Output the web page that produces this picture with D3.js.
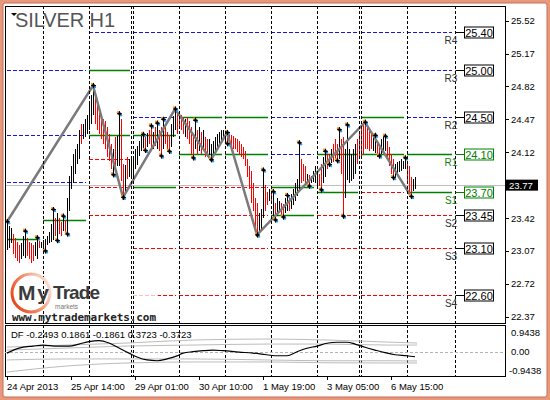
<!DOCTYPE html>
<html>
<head>
<meta charset="utf-8">
<script src="https://cdn.jsdelivr.net/npm/d3@7"></script>
<style>
  body { margin: 0; background: #fff; }
  text { font-family: "Liberation Sans", Arial, sans-serif; }
</style>
</head>
<body>
<div id="root"></div>
<script>
// DATA (hourly bars, index 0 = first bar on the chart)
let barHigh = [23.38,23.34,23.31,23.25,23.21,23.17,23.13,23.15,23.23,23.28,23.21,23.17,23.15,23.13,23.17,23.21,23.18,23.17,23.19,23.20,
  23.23,23.27,23.36,23.51,23.42,23.47,23.42,23.38,23.44,23.40,23.63,23.87,23.97,24.10,24.15,24.21,24.36,24.42,24.42,24.47,
  24.52,24.63,24.73,24.83,24.76,24.68,24.57,24.52,24.47,24.45,24.39,24.31,24.21,24.15,24.28,24.29,24.53,24.47,24.00,23.98,
  24.07,24.05,24.05,24.08,24.15,24.19,24.24,24.29,24.31,24.28,24.33,24.36,24.40,24.34,24.39,24.43,24.36,24.39,24.47,24.39,
  24.34,24.30,24.42,24.51,24.58,24.55,24.55,24.52,24.49,24.47,24.49,24.45,24.39,24.31,24.46,24.36,24.39,24.34,24.36,24.28,
  24.26,24.26,24.21,24.24,24.28,24.31,24.34,24.36,24.36,24.33,24.33,24.31,24.30,24.29,24.27,24.26,24.24,24.21,24.18,24.13,
  24.05,23.97,23.92,23.79,23.63,23.58,23.47,23.52,23.93,23.77,23.70,23.73,23.68,23.70,23.58,23.63,23.60,23.58,23.57,23.63,
  23.66,23.63,23.68,23.73,23.79,23.84,24.22,24.05,24.00,23.97,23.89,23.88,23.87,23.92,23.97,23.92,23.89,24.00,24.07,24.13,
  24.10,24.10,24.15,24.21,24.26,24.21,24.36,24.26,24.28,24.15,24.41,24.15,24.10,24.15,24.21,24.26,24.31,24.39,24.42,24.44,
  24.39,24.36,24.33,24.31,24.30,24.24,24.21,24.26,24.28,24.29,24.24,24.18,24.10,24.05,24.00,24.02,24.03,24.05,24.03,24.06,
  24.02,23.97,23.86,23.84,23.86];
let barLow = [23.08,23.10,23.15,23.04,23.00,22.96,22.94,22.98,23.02,23.00,23.02,22.98,22.94,22.96,23.02,22.98,23.10,23.10,23.11,23.07,
  23.13,23.15,23.17,23.19,23.23,23.18,23.25,23.23,23.28,23.27,23.25,23.49,23.73,23.79,23.89,24.00,24.05,24.21,24.26,24.28,
  24.31,24.36,24.42,24.52,24.42,24.36,24.31,24.26,24.21,24.15,24.07,24.03,23.94,23.88,23.94,23.97,23.97,23.81,23.64,23.70,
  23.84,23.86,23.84,23.84,23.94,23.98,24.08,24.13,24.15,24.14,24.18,24.21,24.18,24.15,24.19,24.15,24.13,24.08,24.15,24.21,
  24.15,24.13,24.18,24.28,24.36,24.31,24.39,24.36,24.31,24.28,24.26,24.21,24.10,24.06,24.15,24.10,24.13,24.10,24.15,24.07,
  24.07,24.09,24.04,24.10,24.13,24.18,24.21,24.23,24.26,24.24,24.21,24.21,24.19,24.15,24.15,24.12,24.10,24.07,24.05,23.97,
  23.86,23.73,23.58,23.50,23.31,23.24,23.26,23.29,23.42,23.49,23.56,23.60,23.57,23.44,23.40,23.44,23.47,23.44,23.43,23.47,
  23.50,23.49,23.52,23.56,23.60,23.65,23.73,23.79,23.81,23.79,23.78,23.76,23.79,23.80,23.79,23.73,23.76,23.72,23.79,23.86,
  23.94,23.99,24.01,24.02,24.05,24.03,24.05,23.89,23.44,23.63,23.82,23.79,23.81,23.84,23.89,24.00,24.05,24.05,24.10,24.15,
  24.15,24.13,24.15,24.13,24.11,24.07,24.08,24.10,24.12,24.13,24.05,23.97,23.89,23.85,23.86,23.89,23.91,23.92,23.94,23.94,
  23.79,23.68,23.65,23.71,23.73];
let barUp = [1,1,1,0,0,0,0,1,1,1,0,0,0,0,1,1,0,1,1,1,
  1,1,1,1,0,1,0,0,1,0,1,1,1,1,1,1,1,0,1,1,
  1,1,1,1,0,0,0,0,0,0,0,0,0,1,0,1,1,0,0,1,
  0,1,1,1,1,1,1,1,1,0,1,0,0,1,0,1,0,0,1,0,
  0,0,1,1,1,0,0,0,0,1,0,0,0,0,1,0,1,0,1,0,
  0,1,1,1,1,1,1,1,1,1,0,0,0,0,0,0,0,0,0,0,
  0,0,0,0,0,0,1,1,1,0,0,1,0,1,0,1,1,0,0,1,
  1,0,1,1,1,1,1,0,0,0,1,0,1,1,1,1,0,0,1,1,
  0,0,1,0,0,0,1,0,0,1,1,1,1,1,1,0,0,0,0,0,
  0,0,0,1,1,0,0,1,1,1,0,0,0,0,1,1,1,1,1,1,
  0,0,0,1,1];

// fractal bars and zigzag turning points
let fractalUp = [0,9,15,23,28,43,56,68,72,75,78,84,94,110,128,133,140,146,159,166,170,179,184,189,199];
let fractalDown = [19,25,30,53,58,69,77,81,93,102,110,125,134,138,151,157,161,165,168,186,193,202];
let zigzagIndex = [0,43,58,84,102,110,125,179,202];
let zigzagPrice = [23.38,24.83,23.64,24.58,24.04,24.33,23.24,24.44,23.65];

// daily pivot levels
let dayStart = [0,18,41,63,86,109,132,155,177,200,224];
let levelsBlue = [[25.00,24.30,23.80],[25.00,24.30,23.80],[25.40],[25.40,25.00,24.50],[25.40,25.00],[25.40,25.00],
  [25.40,25.00,24.50,24.10],[25.40,25.00,24.50],[25.40,25.00],[25.40,25.00,24.50]];
let levelsGreen = [[23.20],[23.40],[25.00,24.30],[24.30,23.75],[24.50,24.10],[24.50,24.10],
  [23.75,23.45],[24.10,23.70],[24.50,24.10],[24.10,23.70]];
let levelsRed = [[],[],[24.05,23.75,23.45],[23.45,23.10,22.60],[23.75,23.45,23.10,22.60],[23.75,23.45,23.10,22.60],
  [23.10,22.60],[23.45,23.10,22.60],[23.70,23.45,23.10,22.60],[23.45,23.10,22.60]];
let levelNames = ['R4','R3','R2','R1','S1','S2','S3','S4'];
let levelValues = [25.40,25.00,24.50,24.10,23.70,23.45,23.10,22.60];
let levelKinds = ['b','b','b','g','g','r','r','r'];

// day separators (bar index)
let separators = [18,41,62,63,86,109,132,155,176,177,200,224];

// axes
let priceTicks = [25.52,25.17,24.82,24.47,24.12,23.42,23.07,22.72,22.37];
let lastPrice = 23.77;
let timeIndex = [0,32,64,96,128,160,192];
let timeLabels = ['24 Apr 2013','25 Apr 14:00','29 Apr 01:00','30 Apr 10:00','1 May 19:00','3 May 05:00','6 May 15:00'];

// DF oscillator
let dfIndex = [0,6,13,18,25,31,36,41,46,51,56,61,65,70,75,80,85,88,93,98,103,108,116,123,129,134,140,145,150,155,160,165,170,174,179,184,189,194,200,204];
let dfValues = [-0.07,0.18,0.28,0.33,0.28,0.28,0.38,0.50,0.55,0.43,0.18,-0.07,-0.26,-0.41,-0.45,-0.36,-0.21,-0.07,0.0,0.05,
  0.08,0.05,-0.02,-0.07,-0.14,-0.20,-0.20,0.0,0.17,0.28,0.42,0.47,0.47,0.38,0.22,0.08,-0.05,-0.15,-0.20,-0.25];
let bandIndex = [0,30,60,93,130,160,190,205];
let bandUpOuter = [0.23,0.33,0.43,0.58,0.63,0.58,0.48,0.43];
let bandUpInner = [0.08,0.18,0.28,0.33,0.38,0.38,0.33,0.33];
let bandDnInner = [-0.41,-0.36,-0.36,-0.36,-0.41,-0.45,-0.45,-0.46];
let bandDnOuter = [-1.01,-0.71,-0.56,-0.51,-0.51,-0.55,-0.56,-0.56];
let dfTicks = [0.9438,0,-0.9438];
let dfLabel = 'DF -0.2493 0.1861 -0.1861 0.3723 -0.3723';

// LAYOUT
let width = 550, height = 400;
let pLeft = 5, pRight = 505, pTop = 6, pBottom = 323;
let indTop = 325, indBottom = 376;

let svg = d3.select('#root').append('svg')
  .attr('width', width).attr('height', height);

// outer frame
svg.append('rect').attr('width', width).attr('height', height).attr('fill', '#e8987c');
svg.append('rect').attr('x', 3).attr('y', 3).attr('width', width - 6).attr('height', height - 6)
  .attr('rx', 2).attr('fill', '#fff').attr('stroke', '#c46e52');

let x = d3.scaleLinear().domain([0, 224]).range([7, 455]);
let y = d3.scaleLinear().domain([25.52, 22.37]).range([20.7, 316.7]);
let yDf = d3.scaleLinear().domain([0.9438, -0.9438]).range([332.7, 370.7]);
let px = i => Math.round(x(i)) + 0.5;

let main = svg.append('g');
main.append('clipPath').attr('id', 'clipMain')
  .append('rect').attr('x', pLeft).attr('y', pTop).attr('width', pRight - pLeft).attr('height', pBottom - pTop);

let plot = main.append('g').attr('clip-path', 'url(#clipMain)');

// pivot level lines
let levelRows = [];
dayStart.slice(0, -1).forEach((s, d) => {
  let x1 = x(s), x2 = x(dayStart[d + 1]) - 3;
  levelsBlue[d].forEach(v => levelRows.push({ x1, x2, v, c: '#1515e8', dash: '4,2', w: 1 }));
  levelsRed[d].forEach(v => levelRows.push({ x1, x2, v, c: '#ff0000', dash: '4,2', w: 1 }));
  levelsGreen[d].forEach(v => levelRows.push({ x1, x2, v, c: '#008000', dash: null, w: 1.5 }));
});
plot.selectAll('.lvl').data(levelRows).enter().append('line')
  .attr('x1', d => d.x1).attr('x2', d => d.x2)
  .attr('y1', d => Math.round(y(d.v)) + 0.5).attr('y2', d => Math.round(y(d.v)) + 0.5)
  .attr('stroke', d => d.c).attr('stroke-width', d => d.w)
  .attr('stroke-dasharray', d => d.dash);

// last price line
plot.append('line').attr('x1', pLeft).attr('x2', pRight)
  .attr('y1', Math.round(y(lastPrice)) + 0.5).attr('y2', Math.round(y(lastPrice)) + 0.5)
  .attr('stroke', '#c0c0c0');

// bars (high-low sticks, black = up hour, red = down hour)
plot.selectAll('.bar').data(barHigh).enter().append('rect')
  .attr('class', 'bar')
  .attr('x', (d, i) => Math.round(x(i)))
  .attr('width', 1)
  .attr('y', d => Math.round(y(d)))
  .attr('height', (d, i) => Math.max(1, Math.round(y(barLow[i])) - Math.round(y(d))))
  .style('fill', (d, i) => barUp[i] ? '#000000' : '#ff0000');

// zigzag
plot.append('path')
  .datum(zigzagIndex.map((d, i) => [d, zigzagPrice[i]]))
  .attr('d', d3.line().x(d => x(d[0])).y(d => y(d[1])))
  .attr('fill', 'none').attr('stroke', '#7a7a7a').attr('stroke-width', 2.5);

// fractal markers
let marks = fractalUp.map(i => [i, barHigh[i]]).concat(fractalDown.map(i => [i, barLow[i]]));
let mg = plot.selectAll('.fr').data(marks).enter().append('g')
  .attr('transform', d => `translate(${px(d[0])},${y(d[1])})`);
mg.append('circle').attr('r', 1.2).attr('cx', -1.5).attr('cy', -1.5).attr('fill', '#ff9a20');
mg.append('circle').attr('r', 1.2).attr('cx', 1.5).attr('cy', 1.5).attr('fill', '#2aa0ff');
mg.append('path').attr('d', d3.symbol(d3.symbolDiamond, 9)).attr('fill', '#000');
mg.append('path').attr('d', 'M-2.5,0H2.5M0,-2.5V2.5').attr('stroke', '#000').attr('stroke-width', 1);

// logo veil
main.append('rect').attr('x', 8).attr('y', 264).attr('width', 150).attr('height', 58)
  .attr('fill', '#fff').attr('opacity', 0.75);

// separators (main + indicator)
[[pTop, pBottom], [indTop, indBottom]].forEach(r => {
  main.selectAll(null).data(separators).enter().append('line')
    .attr('x1', d => px(d)).attr('x2', d => px(d))
    .attr('y1', r[0]).attr('y2', r[1])
    .attr('stroke', '#000').attr('stroke-dasharray', '3,2');
});

// level labels at the right end
let lastX = px(224);
let lg = main.selectAll('.lab').data(levelValues).enter().append('g')
  .attr('transform', d => `translate(0,${Math.round(y(d)) + 0.5})`);
let kindColor = k => k === 'g' ? '#008000' : '#000';
lg.append('line').attr('x1', lastX).attr('x2', 464).attr('stroke', (d, i) => kindColor(levelKinds[i]));
lg.append('rect').attr('x', 464.5).attr('y', -5.5).attr('width', 29).attr('height', 11)
  .attr('fill', '#fff').attr('stroke', (d, i) => kindColor(levelKinds[i]));
lg.append('text').attr('x', 479).attr('y', 4).attr('text-anchor', 'middle')
  .style('font-size', '11px').attr('fill', (d, i) => kindColor(levelKinds[i]))
  .text(d => d.toFixed(2));
lg.append('text').attr('x', 451).attr('y', 11).attr('text-anchor', 'middle')
  .style('font-size', '10px').attr('fill', (d, i) => levelKinds[i] === 'g' ? '#108010' : '#333')
  .text((d, i) => levelNames[i]);

// frames
svg.append('rect').attr('x', pLeft + 0.5).attr('y', pTop + 0.5).attr('width', pRight - pLeft).attr('height', pBottom - pTop)
  .attr('fill', 'none').attr('stroke', '#000');
svg.append('rect').attr('x', pLeft + 0.5).attr('y', indTop + 0.5).attr('width', pRight - pLeft).attr('height', indBottom - indTop)
  .attr('fill', 'none').attr('stroke', '#000');

// price axis
let axisG = svg.append('g');
axisG.selectAll('.tk').data(priceTicks).enter().append('line')
  .attr('x1', pRight + 1).attr('x2', pRight + 4)
  .attr('y1', d => Math.round(y(d)) + 0.5).attr('y2', d => Math.round(y(d)) + 0.5).attr('stroke', '#000');
axisG.selectAll('.tl').data(priceTicks).enter().append('text')
  .attr('x', 511).attr('y', d => y(d) + 3.5)
  .style('font-size', '9.5px').attr('fill', '#000')
  .text(d => d.toFixed(2));
axisG.append('rect').attr('x', 506).attr('y', y(lastPrice) - 5.5).attr('width', 32).attr('height', 11).attr('fill', '#000');
axisG.append('text').attr('x', 509).attr('y', y(lastPrice) + 3.5)
  .style('font-size', '9.5px').attr('fill', '#fff').text(lastPrice.toFixed(2));

// title
svg.append('path').attr('d', 'M11,13 L17,13 L14,16 Z').attr('fill', '#000');
svg.append('text').attr('x', 15).attr('y', 27).attr('textLength', 100)
  .style('font-size', '20px').attr('fill', '#555').text('SILVER H1');

// logo
let grad = svg.append('defs').append('linearGradient').attr('id', 'ring')
  .attr('x1', '0%').attr('x2', '100%').attr('y1', '70%').attr('y2', '20%');
grad.append('stop').attr('offset', '0%').attr('stop-color', '#e6461c');
grad.append('stop').attr('offset', '55%').attr('stop-color', '#f39a78');
grad.append('stop').attr('offset', '100%').attr('stop-color', '#fde6dc');
svg.append('circle').attr('cx', 31).attr('cy', 293).attr('r', 19)
  .attr('fill', 'none').attr('stroke', 'url(#ring)').attr('stroke-width', 3);
svg.append('text').attr('x', 18).attr('y', 300).attr('textLength', 31)
  .style('font-size', '21px').style('font-weight', 'bold').attr('fill', '#3a3a3a').text('My');
svg.append('text').attr('x', 53).attr('y', 299).attr('textLength', 47)
  .style('font-size', '19px').style('font-weight', 'bold').attr('fill', '#3a3a3a').text('Trade');
svg.append('text').attr('x', 55).attr('y', 309)
  .style('font-size', '6.5px').attr('fill', '#777').text('markets');
svg.append('text').attr('x', 12).attr('y', 320.5).attr('textLength', 144)
  .style('font-size', '11px').style('font-weight', 'bold').style('font-family', '"DejaVu Sans Mono", monospace')
  .attr('fill', '#222').text('www.mytrademarkets.com');

// indicator panel
let ind = svg.append('g');
ind.append('line').attr('x1', pLeft).attr('x2', pRight)
  .attr('y1', Math.round(yDf(0)) + 0.5).attr('y2', Math.round(yDf(0)) + 0.5)
  .attr('stroke', '#b4b4b4').attr('stroke-dasharray', '3,2');
let dfLine = d3.line().x(d => x(d[0])).y(d => yDf(d[1])).curve(d3.curveMonotoneX);
[bandUpOuter, bandUpInner, bandDnInner, bandDnOuter].forEach(b => {
  ind.append('path').datum(bandIndex.map((d, i) => [d, b[i]]))
    .attr('d', dfLine).attr('fill', 'none').attr('stroke', '#bcbcbc');
});
ind.append('path').datum(dfIndex.map((d, i) => [d, dfValues[i]]))
  .attr('d', dfLine).attr('fill', 'none').attr('stroke', '#000').attr('stroke-width', 1.2);
ind.append('text').attr('x', 11).attr('y', 338).style('font-size', '9.5px').attr('fill', '#000').text(dfLabel);
ind.selectAll('.dl').data(dfTicks).enter().append('text')
  .attr('x', d => d < 0 ? 509 : 511).attr('y', d => yDf(d) + 3.5)
  .style('font-size', '9.5px').attr('fill', '#000')
  .text(d => d === 0 ? '0.00' : d.toFixed(4));

// time axis
let tg = svg.append('g');
tg.selectAll('.tt').data(timeIndex).enter().append('line')
  .attr('x1', d => px(d)).attr('x2', d => px(d)).attr('y1', indBottom + 1).attr('y2', indBottom + 4)
  .attr('stroke', '#000');
tg.selectAll('.tx').data(timeIndex).enter().append('text')
  .attr('x', d => x(d)).attr('y', 389.5)
  .style('font-size', '9.5px').attr('fill', '#000')
  .text((d, i) => timeLabels[i]);
</script>
</body>
</html>
